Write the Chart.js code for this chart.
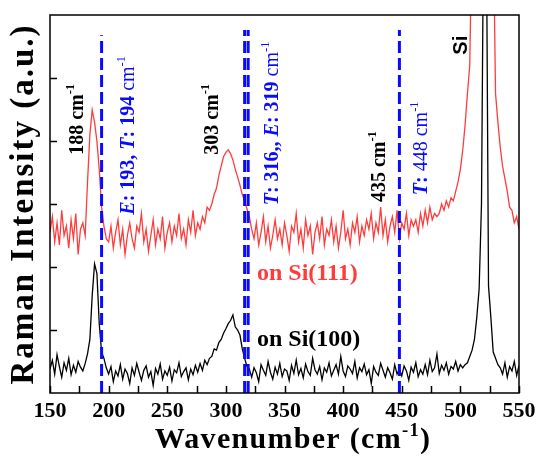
<!DOCTYPE html>
<html>
<head>
<meta charset="utf-8">
<script src="https://cdn.jsdelivr.net/npm/chart.js@4/dist/chart.umd.min.js"></script>
<style>
  html, body { margin: 0; padding: 0; background: #fff; }
</style>
</head>
<body>
<canvas id="raman_chart" width="539" height="466"></canvas>
<script>
// wavenumber grid, 150..550 cm-1 every 2 cm-1
var wnStart = 150, wnStep = 2;
var wavenumbers = [];
for (var w = wnStart; w <= 550; w += wnStep) wavenumbers.push(w);

// on Si(111), red
var si111 = [
  2.55,2.80,2.40,2.70,2.35,2.90,2.50,2.65,2.30,2.75,2.45,2.85,2.20,2.60,2.70,2.50,
  3.35,4.10,4.49,4.30,4.00,3.55,2.95,2.65,2.45,
  2.40,2.65,2.30,2.55,2.75,2.35,2.60,2.20,2.50,2.70,
  2.45,2.30,2.65,2.55,2.85,2.40,2.60,2.25,2.50,2.75,
  2.35,2.60,2.45,2.80,2.30,2.55,2.70,2.40,2.65,2.50,
  2.85,2.45,2.60,2.35,2.75,2.55,2.90,2.50,2.70,2.60,
  2.80,2.70,2.95,2.90,
  3.00,3.15,3.25,3.45,3.60,3.75,3.82,3.86,3.80,3.70,3.55,3.43,3.30,3.15,3.05,2.92,2.80,
  2.60,2.45,2.70,2.35,2.55,2.80,2.40,2.65,2.30,2.50,
  2.75,2.45,2.60,2.35,2.70,2.50,2.25,2.65,2.55,2.85,
  2.40,2.60,2.30,2.75,2.50,2.65,2.20,2.55,2.70,2.45,
  2.80,2.35,2.60,2.50,2.75,2.40,2.65,2.30,2.55,2.90,
  2.45,2.60,2.35,2.70,2.55,2.80,2.40,2.65,2.50,2.75,
  2.60,2.85,2.45,2.70,2.55,2.95,2.50,2.75,2.40,2.65,
  2.80,2.55,2.90,2.45,2.70,2.60,2.85,2.50,2.75,2.65,
  2.75,2.55,2.85,2.65,2.90,2.70,2.95,2.75,2.85,2.80,
  2.85,3.00,2.90,3.05,2.95,3.10,3.05,3.20,3.35,3.55,
  3.85,4.25,4.75,5.20,7.5,7.5,7.5,7.5,7.5,7.5,7.5,7.5,7.5,7.5,4.75,4.30,
  3.90,3.60,3.40,3.20,2.95,2.90,2.70,2.80,2.60
];

// on Si(100), black
var si100 = [
  0.38,0.52,0.30,0.61,0.42,0.25,0.48,0.36,0.55,0.29,0.44,0.33,0.50,0.41,0.35,0.47,
  0.62,0.85,1.55,2.05,1.90,1.10,0.65,0.55,0.40,
  0.30,0.42,0.18,0.35,0.27,0.45,0.22,0.38,0.31,0.15,
  0.40,0.28,0.47,0.33,0.20,0.36,0.43,0.25,0.34,0.12,
  0.39,0.30,0.46,0.22,0.35,0.28,0.41,0.19,0.37,0.32,
  0.48,0.26,0.34,0.40,0.21,0.38,0.29,0.44,0.33,0.47,
  0.36,0.52,0.45,0.55,
  0.58,0.70,0.68,0.80,0.85,0.95,1.02,1.10,1.15,1.24,1.05,1.00,0.92,0.70,0.55,0.42,0.38,
  0.25,0.40,0.32,0.18,0.45,0.36,0.28,0.50,0.33,0.22,
  0.41,0.30,0.47,0.26,0.38,0.35,0.20,0.44,0.31,0.52,
  0.29,0.39,0.24,0.46,0.34,0.28,0.55,0.37,0.30,0.42,
  0.21,0.40,0.33,0.48,0.27,0.36,0.45,0.30,0.58,0.35,
  0.26,0.43,0.38,0.31,0.50,0.24,0.40,0.34,0.46,0.29,
  0.37,0.15,0.42,0.33,0.28,0.47,0.36,0.25,0.40,0.32,
  0.22,0.45,0.30,0.38,0.27,0.43,0.35,0.20,0.41,0.33,
  0.48,0.26,0.37,0.30,0.45,0.29,0.52,0.34,0.40,0.62,
  0.31,0.44,0.36,0.48,0.30,0.42,0.38,0.50,0.35,0.45,
  0.40,0.45,0.48,0.58,0.68,0.85,1.20,1.65,3.0,8.0,8.0,1.70,1.20,0.65,0.55,0.45,
  0.40,0.30,0.48,0.25,0.42,0.35,0.50,0.28,0.44
];

// calculated mode positions (dashed lines) and how high they reach
var modeLines = [194, 316, 319, 448];
var modeTops = [5.68, 5.76, 5.76, 5.76];

var xTickLabels = [150, 200, 250, 300, 350, 400, 450, 500, 550];
var xMinorTicks = [175, 225, 275, 325, 375, 425, 475, 525];
var yTicks = [1, 2, 3, 4, 5];

var BLUE = '#0a0aff', RED = '#ff3c3c';

// text placed in data coords
var notes = [
  { x: 172.2, y: 3.78, color: '#000', segs: [{t: '188 cm'}, {t: '-1', sup: true}] },
  { x: 215.7, y: 2.83, color: BLUE, segs: [{t: 'E', s: 'italic bold'}, {t: ': 193, '}, {t: 'T', s: 'italic bold'}, {t: ': 194 '}, {t: 'cm', s: 'normal'}, {t: '-1', s: 'normal', sup: true}] },
  { x: 287.3, y: 3.78, color: '#000', segs: [{t: '303 cm'}, {t: '-1', sup: true}] },
  { x: 338.3, y: 2.98, color: BLUE, segs: [{t: 'T', s: 'italic bold'}, {t: ': 316,, '}, {t: 'E', s: 'italic bold'}, {t: ': 319 '}, {t: 'cm', s: 'normal'}, {t: '-1', s: 'normal', sup: true}] },
  { x: 429.7, y: 3.03, color: '#000', segs: [{t: '435 cm'}, {t: '-1', sup: true}] },
  { x: 465.6, y: 3.14, color: BLUE, segs: [{t: 'T', s: 'italic bold'}, {t: ': '}, {t: '448 cm', s: 'normal'}, {t: '-1', s: 'normal', sup: true}] },
  { x: 499.7, y: 5.37, color: '#000', family: '"Liberation Sans"', segs: [{t: 'Si'}] }
];
var sampleNotes = [
  { x: 326.5, y: 1.92, color: RED, text: 'on Si(111)' },
  { x: 326.5, y: 0.87, color: '#000', text: 'on Si(100)' }
];

function drawSegs(ctx, segs, x, y, size, color, vertical, centered, family, spacing) {
  family = family || '"Liberation Serif"';
  ctx.save();
  ctx.translate(x, y);
  if (vertical) ctx.rotate(-Math.PI / 2);
  ctx.fillStyle = color;
  ctx.textAlign = 'left';
  ctx.textBaseline = 'alphabetic';
  ctx.letterSpacing = (spacing || 0) + 'px';
  function fontOf(s) {
    var fs = s.sup ? size * 0.62 : size;
    return (s.s || 'bold') + ' ' + fs + 'px ' + family;
  }
  var total = 0;
  segs.forEach(function (s) { ctx.font = fontOf(s); total += ctx.measureText(s.t).width; });
  var cx = centered ? -total / 2 : 0;
  var base = size * 0.34;
  segs.forEach(function (s) {
    ctx.font = fontOf(s);
    ctx.fillText(s.t, cx, s.sup ? base - size * 0.42 : base);
    cx += ctx.measureText(s.t).width;
  });
  ctx.restore();
}

var decor = {
  id: 'decor',
  afterDatasetsDraw: function (chart) {
    var ctx = chart.ctx, a = chart.chartArea;
    var xs = chart.scales.x, ys = chart.scales.y;
    ctx.save();
    ctx.strokeStyle = '#000';
    ctx.lineWidth = 1.5;
    ctx.strokeRect(a.left, a.top, a.right - a.left, a.bottom - a.top);
    ctx.beginPath();
    xTickLabels.concat(xMinorTicks).forEach(function (v) {
      var px = Math.round(xs.getPixelForValue(v)) + 0.5;
      ctx.moveTo(px, a.bottom);
      ctx.lineTo(px, a.bottom - 7);
    });
    yTicks.forEach(function (v) {
      var py = Math.round(ys.getPixelForValue(v)) + 0.5;
      ctx.moveTo(a.left, py);
      ctx.lineTo(a.left + 7, py);
    });
    ctx.stroke();
    ctx.restore();

    notes.forEach(function (n) {
      drawSegs(ctx, n.segs, xs.getPixelForValue(n.x), ys.getPixelForValue(n.y), 20, n.color, true, false, n.family);
    });
    sampleNotes.forEach(function (n) {
      drawSegs(ctx, [{t: n.text}], xs.getPixelForValue(n.x), ys.getPixelForValue(n.y), 24, n.color, false, false);
    });

    // axis titles
    drawSegs(ctx, [{t: 'Wavenumber (cm'}, {t: '-1', sup: true}, {t: ')'}], 293, 438, 30, '#000', false, true, null, 1.3);
    drawSegs(ctx, [{t: 'Raman Intensity (a.u.)'}], 22, (a.top + a.bottom) / 2, 33, '#000', true, true, null, 2);
  }
};

var blueSets = modeLines.map(function (m, i) {
  return {
    data: [{x: m, y: 0}, {x: m, y: modeTops[i]}],
    borderColor: BLUE,
    borderWidth: 3,
    borderDash: [12, 5],
    pointRadius: 0
  };
});

var ctx = document.getElementById('raman_chart').getContext('2d');
var chartInstance = new Chart(ctx, {
  type: 'line',
  data: {
    datasets: blueSets.concat([
      {
        label: 'on Si(100)',
        data: wavenumbers.map(function (x, i) { return {x: x, y: si100[i]}; }),
        borderColor: '#000',
        borderWidth: 1.3,
        pointRadius: 0
      },
      {
        label: 'on Si(111)',
        data: wavenumbers.map(function (x, i) { return {x: x, y: si111[i]}; }),
        borderColor: RED,
        borderWidth: 1.3,
        pointRadius: 0
      }
    ])
  },
  options: {
    responsive: false,
    animation: false,
    layout: { padding: { top: 15, right: 20, left: 0, bottom: 0 } },
    plugins: { legend: { display: false }, tooltip: { enabled: false } },
    scales: {
      x: {
        type: 'linear',
        min: 150,
        max: 550,
        grid: { display: false },
        border: { display: false },
        afterFit: function (scale) { scale.height = 73; },
        afterBuildTicks: function (scale) {
          scale.ticks = xTickLabels.map(function (v) { return {value: v}; });
        },
        ticks: {
          padding: -3,
          color: '#000',
          maxRotation: 0,
          font: { family: 'Liberation Serif', size: 22, weight: 'bold' }
        }
      },
      y: {
        min: 0,
        max: 6,
        grid: { display: false },
        border: { display: false },
        ticks: { display: false },
        afterFit: function (scale) { scale.width = 50; }
      }
    }
  },
  plugins: [decor]
});
</script>
</body>
</html>
